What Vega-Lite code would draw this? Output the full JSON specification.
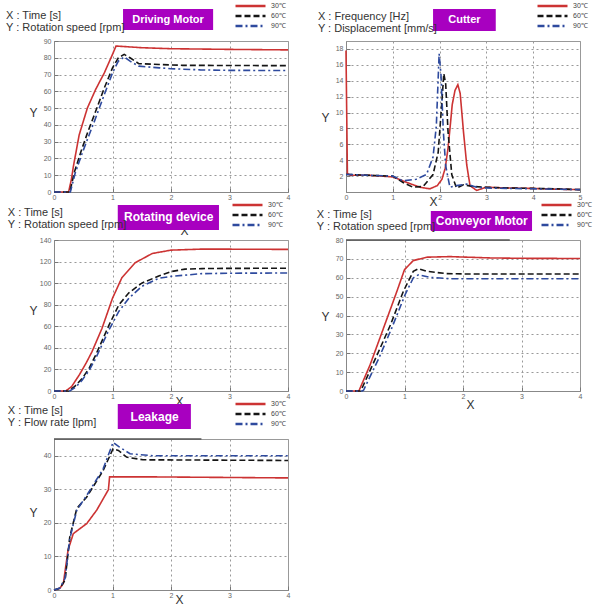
{
"$schema":"https://vega.github.io/schema/vega-lite/v6.json",
"background":"white",
"padding":{"left":5,"top":0,"right":0,"bottom":0},
"columns":2,
"spacing":{"row":48,"column":58},
"bounds":"flush",
"resolve":{"scale":{"color":"independent","strokeDash":"independent"},"legend":{"color":"independent","strokeDash":"independent"}},
"datasets":{
"dm":[
{"t":"30℃","x":0,"y":0},{"t":"30℃","x":0.25,"y":0},{"t":"30℃","x":0.3,"y":8},{"t":"30℃","x":0.33,"y":15},{"t":"30℃","x":0.43,"y":34},{"t":"30℃","x":0.57,"y":50},{"t":"30℃","x":0.71,"y":61},{"t":"30℃","x":0.86,"y":71},{"t":"30℃","x":1.0,"y":82},{"t":"30℃","x":1.06,"y":87},{"t":"30℃","x":1.15,"y":86.8},{"t":"30℃","x":1.5,"y":86},{"t":"30℃","x":2,"y":85.4},{"t":"30℃","x":3,"y":85},{"t":"30℃","x":4,"y":84.7},
{"t":"60℃","x":0,"y":0},{"t":"60℃","x":0.27,"y":0},{"t":"60℃","x":0.35,"y":12},{"t":"60℃","x":0.46,"y":24},{"t":"60℃","x":0.58,"y":36},{"t":"60℃","x":0.69,"y":46},{"t":"60℃","x":0.86,"y":62},{"t":"60℃","x":1.0,"y":74},{"t":"60℃","x":1.1,"y":80},{"t":"60℃","x":1.2,"y":82},{"t":"60℃","x":1.3,"y":80},{"t":"60℃","x":1.45,"y":76.5},{"t":"60℃","x":1.8,"y":76},{"t":"60℃","x":2.2,"y":75.5},{"t":"60℃","x":3,"y":75.4},{"t":"60℃","x":4,"y":75.3},
{"t":"90℃","x":0,"y":0},{"t":"90℃","x":0.28,"y":0},{"t":"90℃","x":0.36,"y":11},{"t":"90℃","x":0.47,"y":22},{"t":"90℃","x":0.6,"y":34},{"t":"90℃","x":0.7,"y":43},{"t":"90℃","x":0.87,"y":59},{"t":"90℃","x":1.0,"y":71},{"t":"90℃","x":1.1,"y":78},{"t":"90℃","x":1.2,"y":80.5},{"t":"90℃","x":1.3,"y":78},{"t":"90℃","x":1.45,"y":75},{"t":"90℃","x":1.8,"y":74},{"t":"90℃","x":2,"y":73.5},{"t":"90℃","x":2.5,"y":72.8},{"t":"90℃","x":3,"y":72.5},{"t":"90℃","x":4,"y":72.4}
],
"cut":[
{"t":"30℃","x":0,"y":17.8},{"t":"30℃","x":0.03,"y":2.3},{"t":"30℃","x":0.1,"y":2.1},{"t":"30℃","x":0.5,"y":2.1},{"t":"30℃","x":1.0,"y":1.9},{"t":"30℃","x":1.3,"y":1.2},{"t":"30℃","x":1.58,"y":0.6},{"t":"30℃","x":1.79,"y":0.4},{"t":"30℃","x":1.95,"y":0.8},{"t":"30℃","x":2.05,"y":1.6},{"t":"30℃","x":2.12,"y":3},{"t":"30℃","x":2.18,"y":5.5},{"t":"30℃","x":2.23,"y":8.5},{"t":"30℃","x":2.27,"y":11},{"t":"30℃","x":2.33,"y":12.8},{"t":"30℃","x":2.39,"y":13.5},{"t":"30℃","x":2.44,"y":12.4},{"t":"30℃","x":2.51,"y":7.6},{"t":"30℃","x":2.58,"y":3.4},{"t":"30℃","x":2.65,"y":0.8},{"t":"30℃","x":2.79,"y":0.2},{"t":"30℃","x":3.0,"y":0.6},{"t":"30℃","x":3.5,"y":0.5},{"t":"30℃","x":4,"y":0.45},{"t":"30℃","x":4.5,"y":0.35},{"t":"30℃","x":5,"y":0.3},
{"t":"60℃","x":0,"y":2.2},{"t":"60℃","x":0.1,"y":2.2},{"t":"60℃","x":0.5,"y":2.1},{"t":"60℃","x":1.0,"y":2.0},{"t":"60℃","x":1.22,"y":1.2},{"t":"60℃","x":1.43,"y":0.6},{"t":"60℃","x":1.65,"y":0.7},{"t":"60℃","x":1.86,"y":2.2},{"t":"60℃","x":1.97,"y":5},{"t":"60℃","x":2.04,"y":10.6},{"t":"60℃","x":2.09,"y":14.9},{"t":"60℃","x":2.13,"y":13.6},{"t":"60℃","x":2.18,"y":7.6},{"t":"60℃","x":2.26,"y":2.2},{"t":"60℃","x":2.36,"y":0.5},{"t":"60℃","x":2.51,"y":0.9},{"t":"60℃","x":2.72,"y":0.7},{"t":"60℃","x":3,"y":0.6},{"t":"60℃","x":3.5,"y":0.5},{"t":"60℃","x":4,"y":0.45},{"t":"60℃","x":4.5,"y":0.4},{"t":"60℃","x":5,"y":0.3},
{"t":"90℃","x":0,"y":2.2},{"t":"90℃","x":0.1,"y":2.2},{"t":"90℃","x":0.5,"y":2.1},{"t":"90℃","x":1.0,"y":2.0},{"t":"90℃","x":1.22,"y":1.4},{"t":"90℃","x":1.5,"y":1.6},{"t":"90℃","x":1.72,"y":2.2},{"t":"90℃","x":1.86,"y":4.4},{"t":"90℃","x":1.93,"y":8.3},{"t":"90℃","x":1.99,"y":17.4},{"t":"90℃","x":2.03,"y":14.7},{"t":"90℃","x":2.08,"y":7.6},{"t":"90℃","x":2.13,"y":3.3},{"t":"90℃","x":2.22,"y":0.6},{"t":"90℃","x":2.36,"y":0.8},{"t":"90℃","x":2.58,"y":1.0},{"t":"90℃","x":2.79,"y":0.6},{"t":"90℃","x":3,"y":0.5},{"t":"90℃","x":3.5,"y":0.45},{"t":"90℃","x":4,"y":0.4},{"t":"90℃","x":4.5,"y":0.35},{"t":"90℃","x":5,"y":0.3}
],
"rot":[
{"t":"30℃","x":0,"y":0},{"t":"30℃","x":0.2,"y":0},{"t":"30℃","x":0.3,"y":4},{"t":"30℃","x":0.43,"y":14.7},{"t":"30℃","x":0.55,"y":26},{"t":"30℃","x":0.65,"y":36.5},{"t":"30℃","x":0.82,"y":58},{"t":"30℃","x":1.0,"y":86},{"t":"30℃","x":1.16,"y":105},{"t":"30℃","x":1.39,"y":119},{"t":"30℃","x":1.68,"y":127.5},{"t":"30℃","x":2,"y":130.6},{"t":"30℃","x":2.5,"y":131.5},{"t":"30℃","x":3,"y":131.5},{"t":"30℃","x":4,"y":131.3},
{"t":"60℃","x":0,"y":0},{"t":"60℃","x":0.25,"y":0},{"t":"60℃","x":0.35,"y":4},{"t":"60℃","x":0.48,"y":11.5},{"t":"60℃","x":0.6,"y":21},{"t":"60℃","x":0.71,"y":33},{"t":"60℃","x":0.94,"y":61},{"t":"60℃","x":1.11,"y":80},{"t":"60℃","x":1.28,"y":91},{"t":"60℃","x":1.5,"y":100},{"t":"60℃","x":1.79,"y":106.6},{"t":"60℃","x":2,"y":110.7},{"t":"60℃","x":2.24,"y":113},{"t":"60℃","x":2.53,"y":113.5},{"t":"60℃","x":3,"y":113.7},{"t":"60℃","x":4,"y":113.8},
{"t":"90℃","x":0,"y":0},{"t":"90℃","x":0.27,"y":0},{"t":"90℃","x":0.37,"y":3.5},{"t":"90℃","x":0.48,"y":10},{"t":"90℃","x":0.6,"y":19},{"t":"90℃","x":0.71,"y":30},{"t":"90℃","x":0.94,"y":56.7},{"t":"90℃","x":1.11,"y":74},{"t":"90℃","x":1.28,"y":86},{"t":"90℃","x":1.5,"y":97},{"t":"90℃","x":1.79,"y":104.5},{"t":"90℃","x":2,"y":106.3},{"t":"90℃","x":2.53,"y":108.8},{"t":"90℃","x":3,"y":109.2},{"t":"90℃","x":4,"y":109.4}
],
"conv":[
{"t":"30℃","x":0,"y":0},{"t":"30℃","x":0.22,"y":0},{"t":"30℃","x":0.41,"y":13.7},{"t":"30℃","x":0.64,"y":33.2},{"t":"30℃","x":0.87,"y":52.8},{"t":"30℃","x":1.0,"y":64.3},{"t":"30℃","x":1.15,"y":69.1},{"t":"30℃","x":1.38,"y":70.9},{"t":"30℃","x":1.78,"y":71.2},{"t":"30℃","x":2.46,"y":70.5},{"t":"30℃","x":3,"y":70.3},{"t":"30℃","x":4,"y":70.2},
{"t":"60℃","x":0,"y":0},{"t":"60℃","x":0.25,"y":0},{"t":"60℃","x":0.27,"y":1.2},{"t":"60℃","x":0.53,"y":19},{"t":"60℃","x":0.76,"y":35},{"t":"60℃","x":0.98,"y":52.8},{"t":"60℃","x":1.15,"y":63.4},{"t":"60℃","x":1.24,"y":64.8},{"t":"60℃","x":1.38,"y":63.4},{"t":"60℃","x":1.72,"y":62.2},{"t":"60℃","x":2.06,"y":62},{"t":"60℃","x":3,"y":62},{"t":"60℃","x":4,"y":62},
{"t":"90℃","x":0,"y":0},{"t":"90℃","x":0.28,"y":0},{"t":"90℃","x":0.3,"y":0.4},{"t":"90℃","x":0.56,"y":17.2},{"t":"90℃","x":0.78,"y":33.2},{"t":"90℃","x":1.01,"y":51},{"t":"90℃","x":1.15,"y":59.9},{"t":"90℃","x":1.24,"y":61.6},{"t":"90℃","x":1.44,"y":60.2},{"t":"90℃","x":1.78,"y":59.5},{"t":"90℃","x":3,"y":59.5},{"t":"90℃","x":4,"y":59.5}
],
"leak":[
{"t":"30℃","x":0,"y":0},{"t":"30℃","x":0.1,"y":0.5},{"t":"30℃","x":0.16,"y":2},{"t":"30℃","x":0.24,"y":11.9},{"t":"30℃","x":0.33,"y":16.8},{"t":"30℃","x":0.56,"y":19.8},{"t":"30℃","x":0.73,"y":23.8},{"t":"30℃","x":0.93,"y":29.9},{"t":"30℃","x":0.95,"y":33.7},{"t":"30℃","x":1.75,"y":33.7},{"t":"30℃","x":4,"y":33.4},
{"t":"60℃","x":0,"y":0},{"t":"60℃","x":0.1,"y":0.5},{"t":"60℃","x":0.19,"y":3},{"t":"60℃","x":0.27,"y":15.8},{"t":"60℃","x":0.39,"y":24.3},{"t":"60℃","x":0.56,"y":27.7},{"t":"60℃","x":0.84,"y":35.6},{"t":"60℃","x":1.01,"y":42.1},{"t":"60℃","x":1.1,"y":41.6},{"t":"60℃","x":1.24,"y":39.6},{"t":"60℃","x":1.52,"y":38.8},{"t":"60℃","x":4,"y":38.6},
{"t":"90℃","x":0,"y":0},{"t":"90℃","x":0.1,"y":0.6},{"t":"90℃","x":0.19,"y":3.5},{"t":"90℃","x":0.27,"y":15.3},{"t":"90℃","x":0.39,"y":23.8},{"t":"90℃","x":0.56,"y":28.2},{"t":"90℃","x":0.84,"y":36.1},{"t":"90℃","x":1.01,"y":44},{"t":"90℃","x":1.12,"y":42.6},{"t":"90℃","x":1.3,"y":40.6},{"t":"90℃","x":1.69,"y":40},{"t":"90℃","x":4,"y":40}
]
},
"concat":[
{"width":234,"height":151,"layer":[
 {"data":{"name":"dm"},"mark":{"type":"line","strokeWidth":1.6},"encoding":{
  "x":{"field":"x","type":"quantitative","scale":{"domain":[0,4],"nice":false},"axis":{"values":[0,1,2,3,4],"tickCount":30,"title":"X","titleX":130,"titleY":38}},
  "y":{"field":"y","type":"quantitative","scale":{"domain":[0,90],"nice":false},"axis":{"values":[0,10,20,30,40,50,60,70,80,90],"tickCount":30,"title":"Y","titleX":-21,"titleY":71}},
  "color":{"field":"t","type":"nominal","scale":{"domain":["30℃","60℃","90℃"],"range":["#cc3333","#151515","#2e4a9e"]},"legend":{"orient":"none","legendX":180,"legendY":-40}},
  "strokeDash":{"field":"t","type":"nominal","scale":{"domain":["30℃","60℃","90℃"],"range":[[1,0],[6,3],[7,3,2,3]]},"legend":{"orient":"none","legendX":180,"legendY":-40}}}},
 {"data":{"values":[{}]},"mark":{"type":"rect","color":"#a800c0"},"encoding":{"x":{"datum":1.18},"x2":{"datum":2.72},"y":{"datum":109.1},"y2":{"datum":96.6}}},
 {"data":{"values":[{}]},"mark":{"type":"text","color":"white","fontWeight":"bold","fontSize":11},"encoding":{"x":{"datum":1.95},"y":{"datum":102.8},"text":{"value":"Driving Motor"}}},
 {"data":{"values":[{}]},"mark":{"type":"text","align":"left","baseline":"middle","fontSize":11,"lineHeight":12,"color":"#333"},"encoding":{"x":{"datum":-0.82},"y":{"datum":104.9},"text":{"value":["X : Time [s]","Y : Rotation speed [rpm]"]}}}
]},
{"width":234,"height":151,"layer":[
 {"data":{"name":"cut"},"mark":{"type":"line","strokeWidth":1.6},"encoding":{
  "x":{"field":"x","type":"quantitative","scale":{"domain":[0,5],"nice":false},"axis":{"values":[0,1,2,3,4,5],"tickCount":30,"title":"X","titleX":87,"titleY":9}},
  "y":{"field":"y","type":"quantitative","scale":{"domain":[0,19],"nice":false},"axis":{"values":[2,4,6,8,10,12,14,16,18],"tickCount":30,"title":"Y","titleX":-21,"titleY":76}},
  "color":{"field":"t","type":"nominal","scale":{"domain":["30℃","60℃","90℃"],"range":["#cc3333","#151515","#2e4a9e"]},"legend":{"orient":"none","legendX":190,"legendY":-40}},
  "strokeDash":{"field":"t","type":"nominal","scale":{"domain":["30℃","60℃","90℃"],"range":[[1,0],[6,3],[7,3,2,3]]},"legend":{"orient":"none","legendX":190,"legendY":-40}}}},
 {"data":{"values":[{}]},"mark":{"type":"rect","color":"#a800c0"},"encoding":{"x":{"datum":1.86},"x2":{"datum":3.2},"y":{"datum":23.03},"y2":{"datum":20.26}}},
 {"data":{"values":[{}]},"mark":{"type":"text","color":"white","fontWeight":"bold","fontSize":11},"encoding":{"x":{"datum":2.53},"y":{"datum":21.65},"text":{"value":"Cutter"}}},
 {"data":{"values":[{}]},"mark":{"type":"text","align":"left","baseline":"middle","fontSize":11,"lineHeight":12,"color":"#333"},"encoding":{"x":{"datum":-0.6},"y":{"datum":22.02},"text":{"value":["X : Frequency [Hz]","Y : Displacement [mm/s]"]}}}
]},
{"width":234,"height":151,"layer":[
 {"data":{"name":"rot"},"mark":{"type":"line","strokeWidth":1.6},"encoding":{
  "x":{"field":"x","type":"quantitative","scale":{"domain":[0,4],"nice":false},"axis":{"values":[0,1,2,3,4],"tickCount":30,"title":"X","titleX":125,"titleY":10}},
  "y":{"field":"y","type":"quantitative","scale":{"domain":[0,140],"nice":false},"axis":{"values":[0,20,40,60,80,100,120,140],"tickCount":30,"title":"Y","titleX":-21,"titleY":70}},
  "color":{"field":"t","type":"nominal","scale":{"domain":["30℃","60℃","90℃"],"range":["#cc3333","#151515","#2e4a9e"]},"legend":{"orient":"none","legendX":177,"legendY":-40}},
  "strokeDash":{"field":"t","type":"nominal","scale":{"domain":["30℃","60℃","90℃"],"range":[[1,0],[6,3],[7,3,2,3]]},"legend":{"orient":"none","legendX":177,"legendY":-40}}}},
 {"data":{"values":[{}]},"mark":{"type":"rect","color":"#a800c0"},"encoding":{"x":{"datum":1.09},"x2":{"datum":2.82},"y":{"datum":172.4},"y2":{"datum":149.3}}},
 {"data":{"values":[{}]},"mark":{"type":"text","color":"white","fontWeight":"bold","fontSize":12},"encoding":{"x":{"datum":1.96},"y":{"datum":160.9},"text":{"value":"Rotating device"}}},
 {"data":{"values":[{}]},"mark":{"type":"text","align":"left","baseline":"middle","fontSize":11,"lineHeight":12,"color":"#333"},"encoding":{"x":{"datum":-0.79},"y":{"datum":165.0},"text":{"value":["X : Time [s]","Y : Rotation speed [rpm]"]}}}
]},
{"width":234,"height":151,"layer":[
 {"data":{"name":"conv"},"mark":{"type":"line","strokeWidth":1.6},"encoding":{
  "x":{"field":"x","type":"quantitative","scale":{"domain":[0,4],"nice":false},"axis":{"values":[0,1,2,3,4],"tickCount":30,"title":"X","titleX":124,"titleY":13}},
  "y":{"field":"y","type":"quantitative","scale":{"domain":[0,80],"nice":false},"axis":{"values":[0,10,20,30,40,50,60,70,80],"tickCount":30,"title":"Y","titleX":-21,"titleY":76}},
  "color":{"field":"t","type":"nominal","scale":{"domain":["30℃","60℃","90℃"],"range":["#cc3333","#151515","#2e4a9e"]},"legend":{"orient":"none","legendX":194,"legendY":-40}},
  "strokeDash":{"field":"t","type":"nominal","scale":{"domain":["30℃","60℃","90℃"],"range":[[1,0],[6,3],[7,3,2,3]]},"legend":{"orient":"none","legendX":194,"legendY":-40}}}},
 {"data":{"values":[{}]},"mark":{"type":"rule","color":"#555","strokeWidth":1.5},"encoding":{"x":{"datum":0},"x2":{"datum":2.8},"y":{"datum":80}}},
 {"data":{"values":[{}]},"mark":{"type":"rect","color":"#a800c0"},"encoding":{"x":{"datum":1.45},"x2":{"datum":3.18},"y":{"datum":95.4},"y2":{"datum":84.8}}},
 {"data":{"values":[{}]},"mark":{"type":"text","color":"white","fontWeight":"bold","fontSize":12},"encoding":{"x":{"datum":2.32},"y":{"datum":90.1},"text":{"value":"Conveyor Motor"}}},
 {"data":{"values":[{}]},"mark":{"type":"text","align":"left","baseline":"middle","fontSize":11,"lineHeight":12,"color":"#333"},"encoding":{"x":{"datum":-0.5},"y":{"datum":93.2},"text":{"value":["X : Time [s]","Y : Rotation speed [rpm]"]}}}
]},
{"width":234,"height":151,"layer":[
 {"data":{"name":"leak"},"mark":{"type":"line","strokeWidth":1.6},"encoding":{
  "x":{"field":"x","type":"quantitative","scale":{"domain":[0,4],"nice":false},"axis":{"values":[0,1,2,3,4],"tickCount":30,"title":"X","titleX":125,"titleY":9}},
  "y":{"field":"y","type":"quantitative","scale":{"domain":[0,45],"nice":false},"axis":{"values":[0,10,20,30,40],"tickCount":30,"title":"Y","titleX":-21,"titleY":73}},
  "color":{"field":"t","type":"nominal","scale":{"domain":["30℃","60℃","90℃"],"range":["#cc3333","#151515","#2e4a9e"]},"legend":{"orient":"none","legendX":180,"legendY":-40}},
  "strokeDash":{"field":"t","type":"nominal","scale":{"domain":["30℃","60℃","90℃"],"range":[[1,0],[6,3],[7,3,2,3]]},"legend":{"orient":"none","legendX":180,"legendY":-40}}}},
 {"data":{"values":[{}]},"mark":{"type":"rule","color":"#555","strokeWidth":1.5},"encoding":{"x":{"datum":0},"x2":{"datum":2.52},"y":{"datum":45}}},
 {"data":{"values":[{}]},"mark":{"type":"rect","color":"#a800c0"},"encoding":{"x":{"datum":1.09},"x2":{"datum":2.34},"y":{"datum":55.4},"y2":{"datum":48.0}}},
 {"data":{"values":[{}]},"mark":{"type":"text","color":"white","fontWeight":"bold","fontSize":12},"encoding":{"x":{"datum":1.72},"y":{"datum":51.7},"text":{"value":"Leakage"}}},
 {"data":{"values":[{}]},"mark":{"type":"text","align":"left","baseline":"middle","fontSize":11,"lineHeight":12,"color":"#333"},"encoding":{"x":{"datum":-0.79},"y":{"datum":53.3},"text":{"value":["X : Time [s]","Y : Flow rate [lpm]"]}}}
]}
],
"config":{
 "font":"Liberation Sans",
 "view":{"stroke":"#999","strokeWidth":1},
 "axis":{"labelFontSize":7,"labelColor":"#666","labelOverlap":false,"labelBound":false,"labelFlush":false,"format":"d","tickColor":"#777","tickSize":-4,"labelPadding":4,"domain":true,"domainColor":"#888","grid":true,"gridColor":"#999","gridDash":[2,3],"gridWidth":1,"titleFontSize":12,"titleFontWeight":"normal","titleColor":"#333"},
 "axisY":{"titleAngle":0,"titleAlign":"center","titleBaseline":"middle","labelPadding":7},
 "axisX":{"titleAlign":"center","titleBaseline":"middle","labelPadding":5},
 "legend":{"title":null,"labelFontSize":7,"labelColor":"#444","symbolType":"stroke","symbolSize":900,"symbolStrokeWidth":2.5,"clipHeight":10,"rowPadding":0,"labelOffset":4}
}
}
